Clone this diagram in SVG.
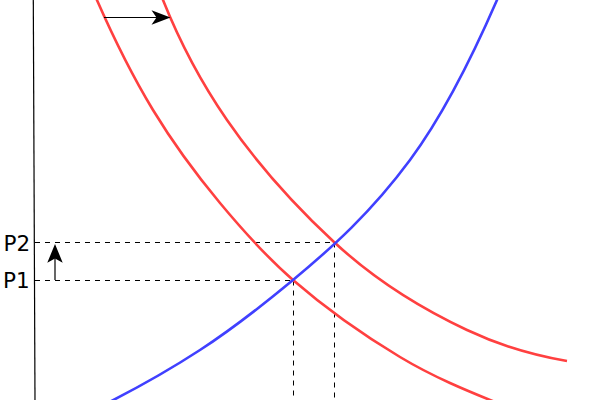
<svg xmlns="http://www.w3.org/2000/svg" width="600" height="400" viewBox="0 0 600 400">
<style>
.demand{fill:none;stroke:#ff4040;stroke-width:2.6}
.supply{fill:none;stroke:#4040ff;stroke-width:2.6}
.guide{fill:none;stroke:#000;stroke-width:1;stroke-dasharray:5,5}
.label{font-family:"DejaVu Sans",sans-serif;font-size:21.5px;fill:#000}
.arrow{fill:none;stroke:#000;stroke-width:1.2}
.head{fill:#000;stroke:none}
</style>
<rect width="600" height="400" fill="#fff"/>
<g id="axis">
<line x1="33.3" y1="0" x2="35" y2="400" stroke="#000" stroke-width="1.2"/>
</g>
<g id="guides">
<line class="guide" x1="35" y1="242.5" x2="334.5" y2="242.5"/>
<line class="guide" x1="35" y1="280.5" x2="293.5" y2="280.5"/>
<line class="guide" x1="293.5" y1="280.5" x2="293.5" y2="400"/>
<line class="guide" x1="334.5" y1="242.5" x2="334.5" y2="400"/>
</g>
<g id="demand1">
<path class="demand" d="M90,-16 C111,33.4 132,75.3 153,110 C175.3,146.8 197.7,176.2 220,203 C244.3,232.2 268.7,258.8 293,280 C328.7,311 364.3,335.6 400,357 C433.3,377 466.7,390.7 500,404"/>
</g>
<g id="demand2">
<path class="demand" d="M157,-15 L163,0 C184.3,53.3 205.7,89.1 227,120 C262.7,171.7 298.3,208.8 334,242 C378.3,283.2 422.7,309.2 467,330 C500.3,345.7 533.7,355.3 567,361"/>
</g>
<g id="supply">
<path class="supply" d="M100,406.8 C133.3,390.1 166.7,371.7 200,350 C231,329.85 262,305.7 293,280 C332,247.6 371,212.65 410,160 C439,120.85 468,66.7 497,0 L503,-13.8"/>
</g>
<g id="labels">
<text class="label" x="3.5" y="250.5">P2</text>
<text class="label" x="3" y="287.5">P1</text>
</g>
<g id="connectors">
<line class="arrow" x1="55" y1="280" x2="55" y2="258"/>
<path class="head" d="M55,244 L62.7,262.7 L55,258.5 L47.3,262.7 Z"/>
<line class="arrow" x1="104" y1="17.5" x2="158" y2="17.5"/>
<path class="head" d="M170.5,17.5 L151.5,24.8 L156.5,17.5 L151.5,10.2 Z"/>
</g>
</svg>
